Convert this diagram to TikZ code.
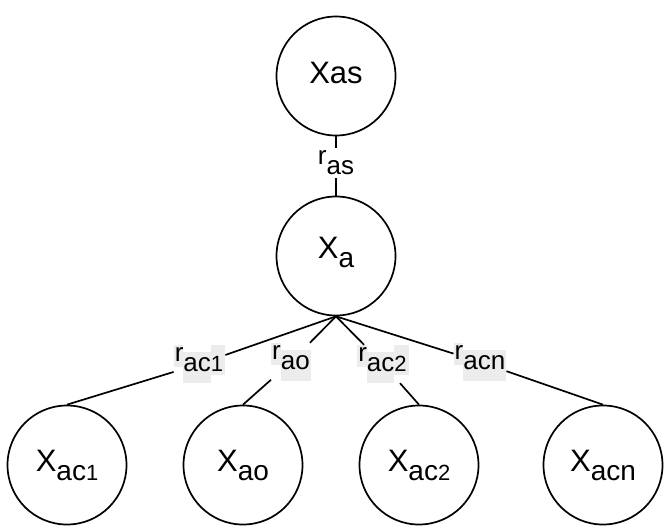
\documentclass[tikz,border=0pt]{standalone}
\usepackage{fontspec}
\setmainfont{Liberation Sans}
\definecolor{lblbg}{RGB}{236,236,236}
\setlength{\fboxsep}{0pt}
% subscript inside a state node: #1 letters, #2 smaller digit
\newcommand{\nsub}[2]{\raisebox{-9pt}{\fontsize{28}{33}\selectfont #1\fontsize{22}{26}\selectfont #2}}
% edge label r with subscript, grey runs behind each piece
\newcommand{\grun}[3]{\colorbox{lblbg}{\rule[-#1]{0pt}{#2}#3}}
\newcommand{\lab}[1]{{\fontsize{26}{30}\selectfont\grun{6pt}{22pt}{\hspace{1pt}r}}\raisebox{-10pt}{\fontsize{26}{31}\selectfont\grun{12pt}{31pt}{#1\hspace{1pt}}}}
\newcommand{\labd}[2]{{\fontsize{26}{30}\selectfont\grun{6pt}{22pt}{\hspace{1pt}r}}\raisebox{-10pt}{\fontsize{26}{31}\selectfont\grun{12pt}{31pt}{#1}\fontsize{22}{26}\selectfont\grun{4pt}{30pt}{#2\hspace{2pt}}}}
\newcommand{\plainlab}[1]{{\fontsize{26}{30}\selectfont r}\raisebox{-10pt}{\fontsize{26}{31}\selectfont #1}}
\begin{document}
\begin{tikzpicture}[x=1pt,y=-1pt,
  state/.style={circle, draw, line width=1.7pt, minimum size=119pt, inner sep=0pt, font=\fontsize{31}{37}\selectfont},
  lbl/.style={inner sep=0pt},
  toplbl/.style={fill=white, inner sep=3pt},
  edge/.style={line width=1.7pt}]
\useasboundingbox (0,0) rectangle (664,528);
\fill[white] (0,0) rectangle (664,528);
\node[state] (xas) at (336,76) {Xas\rule[-6pt]{0pt}{1pt}};
\node[state] (xa) at (336,256) {X\nsub{a}{}\rule[-17pt]{0pt}{1pt}};
\node[state] (c1) at (67,465) {X\nsub{ac}{1}};
\node[state] (ao) at (243,465) {X\nsub{ao}{}};
\node[state] (c2) at (419,465) {X\nsub{ac}{2}};
\node[state] (cn) at (603,465) {X\nsub{acn}{}};
\node[toplbl] (las) at (336,163) {\plainlab{as}};
\node[lbl] (l1) at (199.5,364) {\labd{ac}{1}};
\node[lbl] (l2) at (291,362) {\lab{ao}};
\node[lbl] (l3) at (383,364) {\labd{ac}{2}};
\node[lbl] (l4) at (480,362) {\lab{acn}};
\draw[edge] (xas) -- (las);
\draw[edge] (las) -- (xa);
\draw[edge] (xa.south) -- (l1);
\draw[edge] (l1) -- (c1.north);
\draw[edge] (xa.south) -- (l2);
\draw[edge] (l2) -- (ao.north);
\draw[edge] (xa.south) -- (l3);
\draw[edge] (l3) -- (c2.north);
\draw[edge] (xa.south) -- (l4);
\draw[edge] (l4) -- (cn.north);
\end{tikzpicture}
\end{document}
